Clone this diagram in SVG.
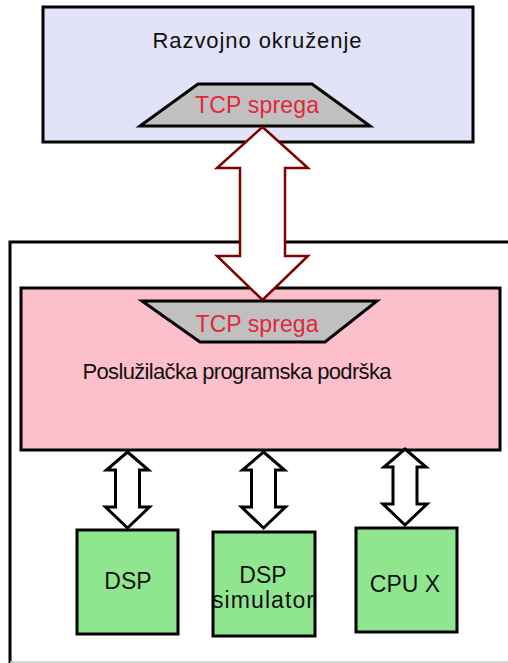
<svg xmlns="http://www.w3.org/2000/svg" xmlns:xlink="http://www.w3.org/1999/xlink" width="508" height="663" viewBox="0 0 508 663">
<style>
.box{stroke:#000;stroke-width:3}
.lbl{font-family:"Liberation Sans",Arial,sans-serif;fill:#111;text-anchor:middle}
.tcp{font-family:"Liberation Sans",Arial,sans-serif;fill:#e3263a;text-anchor:middle;font-size:23px}
.trap{fill:#c0c0c0;stroke:#000;stroke-width:3;stroke-linejoin:miter}
.big{fill:#fff;stroke:#800000;stroke-width:2.5;stroke-linejoin:miter}
.small{fill:#fff;stroke:#000;stroke-width:3;stroke-linejoin:miter}
</style>
<defs>
<polygon id="sarrow" class="small" points="0,0 21,18 12,18 12,55 22,55 0,76 -22,55 -12,55 -12,18 -21,18"/>
</defs>
<rect width="508" height="663" fill="#fff"/>
<g id="outer">
<path d="M510,242 H10 V663" fill="none" stroke="#000" stroke-width="3"/>
<line x1="10" y1="662" x2="508" y2="662" stroke="#c8c8c8" stroke-width="1.5"/>
</g>
<g id="razvojno">
<rect class="box" x="43" y="7" width="430" height="135" fill="#e2e2f8"/>
<text class="lbl" x="257" y="48" font-size="22" textLength="209" lengthAdjust="spacing">Razvojno okruženje</text>
<polygon class="trap" points="198,84 312,84 370,126 140,126"/>
<text class="tcp" x="257" y="113" textLength="124" lengthAdjust="spacing">TCP sprega</text>
</g>
<g id="posluzilacka">
<rect class="box" x="21" y="288" width="479" height="162" fill="#fdc0cb"/>
<polygon class="trap" points="142,301 377,301 325,342 200,342"/>
<text class="tcp" x="257" y="332" textLength="123" lengthAdjust="spacing">TCP sprega</text>
<text class="lbl" x="237" y="379" font-size="22" textLength="309" lengthAdjust="spacing">Poslužilačka programska podrška</text>
</g>
<g id="connectors">
<polygon class="big" points="262.5,127 308,168 285,168 285,256 308,256 262.5,300 217,256 240,256 240,168 217,168"/>
<use xlink:href="#sarrow" x="127.5" y="452"/>
<use xlink:href="#sarrow" x="263.5" y="452"/>
<use xlink:href="#sarrow" x="405" y="449"/>
</g>
<g id="dsp">
<rect class="box" x="77" y="530" width="101" height="104" fill="#8fe68f"/>
<text class="lbl" x="128" y="589" font-size="23">DSP</text>
</g>
<g id="dsp-simulator">
<rect class="box" x="213" y="532" width="102" height="104" fill="#8fe68f"/>
<text class="lbl" x="263" y="583" font-size="23">DSP</text>
<text class="lbl" x="263" y="608" font-size="23" textLength="102" lengthAdjust="spacing">simulator</text>
</g>
<g id="cpux">
<rect class="box" x="356" y="528" width="101" height="104" fill="#8fe68f"/>
<text class="lbl" x="405" y="592" font-size="23">CPU X</text>
</g>
</svg>
